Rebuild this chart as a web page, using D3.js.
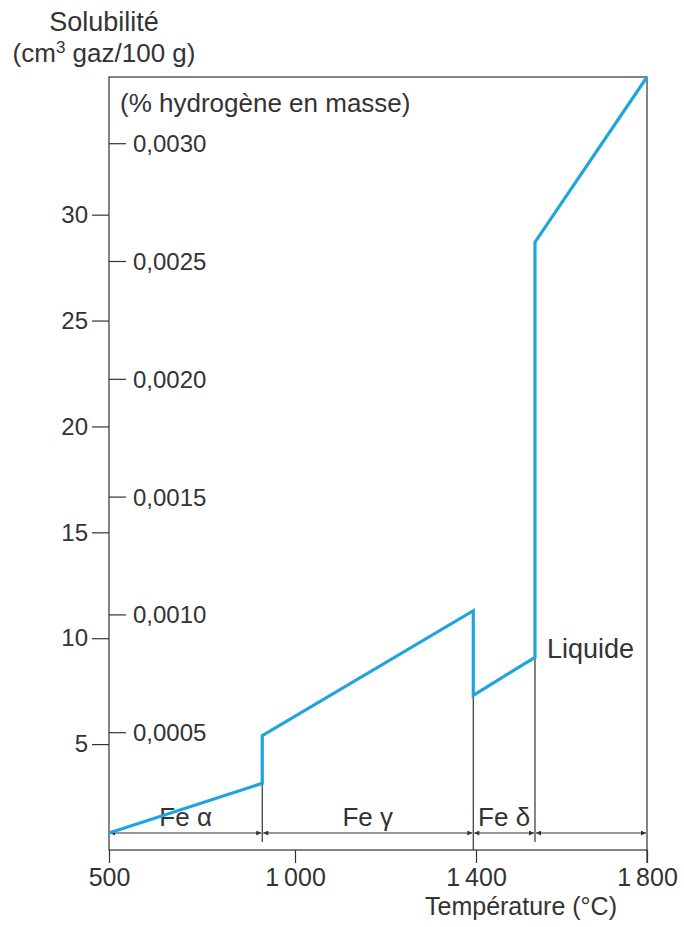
<!DOCTYPE html>
<html>
<head>
<meta charset="utf-8">
<script src="https://cdn.jsdelivr.net/npm/d3@7"></script>
<style>
  body { margin: 0; background: #fff; }
  text { font-family: "Liberation Sans", Arial, sans-serif; fill: #333; }
</style>
</head>
<body>
<script>
const width = 684;
const height = 927;

// curve: temperature (°C) -> solubility (cm3 gaz / 100 g)
const temperatures = [500, 912, 912, 1394, 1394, 1538, 1538, 1800];
const solubility = [0.8, 3.15, 5.4, 11.3, 7.3, 9.1, 28.7, 36.5];

// phase domains along the temperature axis
const phaseBounds = [500, 912, 1394, 1538, 1800];
const phaseNames = ["Fe α", "Fe γ", "Fe δ", ""];

const xTicks = [500, 1000, 1400, 1800];
const leftTicks = [5, 10, 15, 20, 25, 30];
const rightTicks = [0.0005, 0.0010, 0.0015, 0.0020, 0.0025, 0.0030];

const ink = "#333";
const curveColor = "#1ea5de";
const labelSize = "26px";

const svg = d3.select('body')
  .append('svg')
  .attr('width', width)
  .attr('height', height);

// the printed axis is not evenly spaced, so use a polylinear scale
const x = d3.scaleLinear()
  .domain([500, 1000, 1400, 1800])
  .range([109, 295, 476, 647]);

const yLeft = d3.scaleLinear()
  .domain([0, 36.5])
  .range([850, 77]);

const yRight = d3.scaleLinear()
  .domain([0, 0.003281])
  .range([850, 77]);

const fmt = d => d3.format(".4f")(d).replace(".", ",");
const thou = d => d >= 1000 ? String(d).replace(/(\d)(\d{3})$/, "$1\u2009$2") : String(d);

// arrowheads for the phase ranges
const defs = svg.append("defs");
defs.append("marker")
    .attr("id", "arr")
    .attr("viewBox", "0 -5 10 10")
    .attr("refX", 10)
    .attr("refY", 0)
    .attr("markerWidth", 8)
    .attr("markerHeight", 5)
    .attr("markerUnits", "userSpaceOnUse")
    .attr("orient", "auto-start-reverse")
  .append("path")
    .attr("d", "M0,-5L10,0L0,5Z")
    .attr("fill", ink);

// left axis (cm3)
const gl = svg.append("g")
    .attr("transform", "translate(" + x(500) + ",0)")
    .call(d3.axisLeft(yLeft).tickValues(leftTicks).tickSize(17).tickPadding(4));

// right-side ticks of the same line (% H)
const gr = svg.append("g")
    .attr("transform", "translate(" + x(500) + ",0)")
    .call(d3.axisRight(yRight).tickValues(rightTicks).tickSize(17).tickPadding(7).tickFormat(fmt));

// bottom axis
const gb = svg.append("g")
    .attr("transform", "translate(0," + yLeft(0) + ")")
    .call(d3.axisBottom(x).tickValues(xTicks).tickSize(13).tickPadding(5).tickFormat(thou));

[gl, gr, gb].forEach(g => {
  g.select(".domain").remove();
  g.selectAll("line").attr("stroke", ink).attr("stroke-width", 1.2);
  g.selectAll("text").attr("fill", ink).style("font-size", "24px")
    .style("font-family", '"Liberation Sans", Arial, sans-serif');
});
gr.selectAll("text").attr("dy", "0.35em");
gb.selectAll("text").style("font-size", "25px");

// frame
svg.append("rect")
    .attr("x", x(500))
    .attr("y", yLeft(36.5))
    .attr("width", x(1800) - x(500))
    .attr("height", yLeft(0) - yLeft(36.5))
    .attr("fill", "none")
    .attr("stroke", ink)
    .attr("stroke-width", 1.2);

// 1800 tick continues the right border
svg.append("line")
    .attr("x1", x(1800)).attr("x2", x(1800))
    .attr("y1", yLeft(0)).attr("y2", yLeft(0) + 13)
    .attr("stroke", ink).attr("stroke-width", 1.2);

// phase ranges
const arrowY = 833;
const phases = phaseNames.map((name, i) => ({name: name, from: phaseBounds[i], to: phaseBounds[i + 1]}));

svg.append("g").selectAll("line")
    .data(phases)
    .enter().append("line")
    .attr("x1", d => x(d.from) + 1)
    .attr("x2", d => x(d.to) - 1)
    .attr("y1", arrowY)
    .attr("y2", arrowY)
    .attr("stroke", ink)
    .attr("stroke-width", 1.2)
    .attr("marker-start", "url(#arr)")
    .attr("marker-end", "url(#arr)");

svg.append("g").selectAll("text")
    .data(phases.filter(d => d.name))
    .enter().append("text")
    .attr("x", d => (x(d.from) + x(d.to)) / 2)
    .attr("y", arrowY - 7)
    .attr("text-anchor", "middle")
    .style("font-size", labelSize)
    .text(d => d.name);

// vertical boundary lines from the curve down to the phase arrows
const boundaries = [
  {t: 912, v: 3.15, bottom: 842},
  {t: 1394, v: 7.3, bottom: 850},
  {t: 1538, v: 9.1, bottom: 842}
];
svg.append("g").selectAll("line")
    .data(boundaries)
    .enter().append("line")
    .attr("x1", d => x(d.t)).attr("x2", d => x(d.t))
    .attr("y1", d => yLeft(d.v))
    .attr("y2", d => d.bottom)
    .attr("stroke", ink)
    .attr("stroke-width", 1.2);

// solubility curve
const line = d3.line()
    .x((d, i) => x(temperatures[i]))
    .y(d => yLeft(d));

svg.append("path")
    .datum(solubility)
    .attr("d", line)
    .attr("fill", "none")
    .attr("stroke", curveColor)
    .attr("stroke-width", 3.2)
    .attr("stroke-linejoin", "miter");

// labels
svg.append("text")
    .attr("x", x(1538) + 12)
    .attr("y", yLeft(9.1) + 1)
    .style("font-size", "27px")
    .text("Liquide");

svg.append("text")
    .attr("x", 120)
    .attr("y", 112)
    .style("font-size", labelSize)
    .text("(% hydrogène en masse)");

svg.append("text")
    .attr("x", 104)
    .attr("y", 31)
    .attr("text-anchor", "middle")
    .style("font-size", "27px")
    .text("Solubilité");

const unit = svg.append("text")
    .attr("x", 104)
    .attr("y", 62)
    .attr("text-anchor", "middle")
    .style("font-size", labelSize);
unit.append("tspan").text("(cm");
unit.append("tspan").attr("dy", -9).style("font-size", "17px").text("3");
unit.append("tspan").attr("dy", 9).text(" gaz/100 g)");

svg.append("text")
    .attr("x", 617)
    .attr("y", 915)
    .attr("text-anchor", "end")
    .style("font-size", "25px")
    .text("Température (°C)");
</script>
</body>
</html>
